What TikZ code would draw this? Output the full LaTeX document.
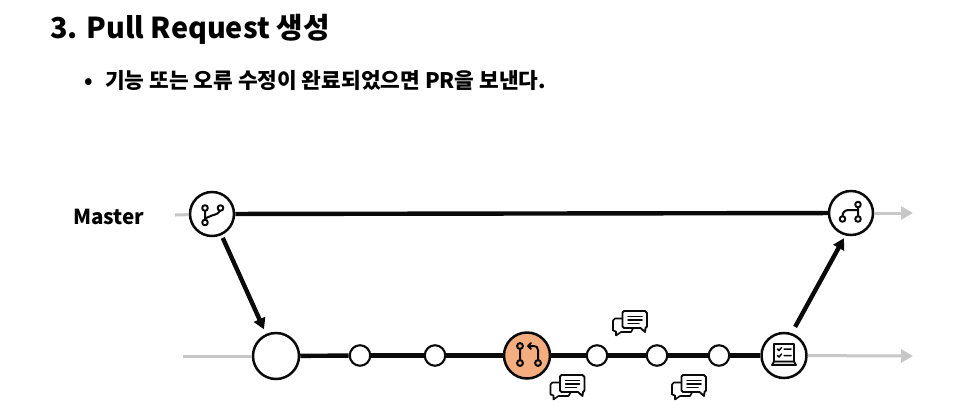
\documentclass[tikz,border=0pt]{standalone}
\usepackage{fontspec}
\setmainfont{Noto Sans CJK KR}[BoldFont={Noto Sans CJK KR Black}]
\usetikzlibrary{arrows.meta}
\definecolor{prfill}{HTML}{F4AD7F}
\definecolor{ink}{HTML}{0A0A0A}
\tikzset{
  grayline/.style={draw=black!22,line width=3pt},
  grayarrow/.style={grayline,-{Triangle[length=12pt,width=13pt]}},
  mainline/.style={draw=ink,line width=4.4pt},
  mainarrow/.style={mainline,-{Triangle[length=11pt,width=12pt]}},
  bigcirc/.style={circle,draw=ink,line width=2.5pt,fill=white,inner sep=0pt,minimum size=44pt},
  smallcirc/.style={circle,draw=ink,line width=2.1pt,fill=white,inner sep=0pt,minimum size=20.5pt},
  prcirc/.style={bigcirc,fill=prfill},
  iconline/.style={draw=ink,line width=2pt,line cap=round,line join=round},
  dotc/.style={iconline,fill=none},
  txt/.style={inner sep=0pt,anchor=base west},
  pics/talk/.style={code={
    \draw[iconline,line width=1.6pt] (-7,-5) -- (-15,-5) -- ++(-2,2) -- (-17,7) -- (-14,8) -- (-14,12) -- (-9,8.5) -- (1,8.5) -- (3,5);
    \draw[iconline,fill=white,line width=1.8pt] (-6,-12.5) -- (15,-12.5) -- (17,-10.5) -- (17,3) -- (15.5,4.5) -- (15,8.5) -- (10.5,4.5) -- (-6,4.5) -- (-7.5,3) -- (-7.5,-11) -- cycle;
    \draw[iconline,line width=1.5pt] (-2,-7) -- (12,-7) (-2,-3.5) -- (12,-3.5) (-2,0) -- (9,0);
  }},
  pics/branchicon/.style={code={
    \draw[dotc] (-7,-6) circle (2.8) (-7,8.5) circle (2.8) (8.5,-6) circle (2.8);
    \draw[iconline] (-7,-3.2) -- (-7,5.7) (-7,4.5) -- (0,1.5) .. controls (5,0) and (7.5,-1) .. (8,-3.2);
  }},
  pics/mergeicon/.style={code={
    \draw[dotc] (7,-8.5) circle (2.8) (7,6) circle (2.8) (-8.5,6) circle (2.8);
    \draw[iconline] (7,-5.7) -- (7,3.2) (7,-3) -- (-2,-3) .. controls (-6,-3) and (-8.5,-1) .. (-8.5,3.2);
  }},
  pics/pricon/.style={code={
    \draw[dotc] (-7,-9) circle (2.9) (-7,8) circle (2.9) (11,8) circle (2.9);
    \draw[iconline] (-7,-6.1) -- (-7,5.1) (11,5.1) -- (11,-5) .. controls (11,-8) and (9,-9) .. (7,-9) -- (1,-9) (4,-12) -- (1,-9) -- (4,-6);
  }},
  pics/laptopicon/.style={code={
    \draw[iconline,line width=1.8pt] (-10,6.5) -- (-10,-11) -- (10,-11) -- (10,6.5);
    \draw[iconline,line width=1.8pt,fill=ink!15] (-10,6.5) -- (-12,10) -- (12,10) -- (10,6.5) -- cycle;
    \draw[iconline,line width=1.5pt] (-6.5,-6) -- (-5,-4.5) -- (-2.5,-7.5) (-6.5,0.5) -- (-5,2) -- (-2.5,-1) (0,-6) -- (7,-6) (0,0.5) -- (7,0.5);
  }},
}
\begin{document}
\begin{tikzpicture}[x=1pt,y=-1pt]
\useasboundingbox (0,0) rectangle (955,413);
\node[txt,font=\bfseries\fontsize{28.8}{32}\selectfont] (title) at (50,38) {3. Pull Request 생성};
\node[txt,font=\bfseries\fontsize{21.4}{24}\selectfont] (bullet) at (84,88) {•};
\node[txt,font=\bfseries\fontsize{21.4}{24}\selectfont] (body) at (105,88) {기능 또는 오류 수정이 완료되었으면 PR을 보낸다.};
\node[txt,font=\bfseries\fontsize{20.6}{24}\selectfont] (master) at (73,224) {Master};

\coordinate (mstart) at (175,215);
\coordinate (mend) at (913,213);
\coordinate (bstart) at (183,356);
\coordinate (bend) at (913,356);

\node[bigcirc] (a) at (212,214) {};
\node[bigcirc] (b) at (851,213) {};
\node[bigcirc,minimum size=46pt] (c) at (276,356) {};
\node[smallcirc] (d) at (360,355.5) {};
\node[smallcirc] (e) at (435,355.5) {};
\node[prcirc,minimum size=46pt] (f) at (527,355.5) {};
\node[smallcirc] (g) at (597,355.5) {};
\node[smallcirc] (h) at (657,355.5) {};
\node[smallcirc] (i) at (719,355.5) {};
\node[bigcirc,minimum size=45pt] (j) at (784,355.5) {};

\draw[grayline] (mstart) -- (a);
\draw[grayarrow] (b) -- (mend);
\draw[grayline] (bstart) -- (c);
\draw[grayarrow] (j) -- (bend);
\draw[mainline] (a) -- (b);
\draw[mainline] (c) -- (d);
\draw[mainline] (d) -- (e);
\draw[mainline] (e) -- (f);
\draw[mainline] (f) -- (g);
\draw[mainline] (g) -- (h);
\draw[mainline] (h) -- (i);
\draw[mainline] (i) -- (j);
\draw[mainarrow,shorten <=3pt,shorten >=5pt] (a) -- (c);
\draw[mainarrow,shorten <=7pt,shorten >=3pt] (j.71) -- (b.256);

\pic at (212,214) {branchicon};
\pic at (851,213) {mergeicon};
\pic at (527,355) {pricon};
\pic at (784,355) {laptopicon};
\pic at (630,323.5) {talk};
\pic at (567.5,387.5) {talk};
\pic at (689,387.5) {talk};
\end{tikzpicture}
\end{document}
